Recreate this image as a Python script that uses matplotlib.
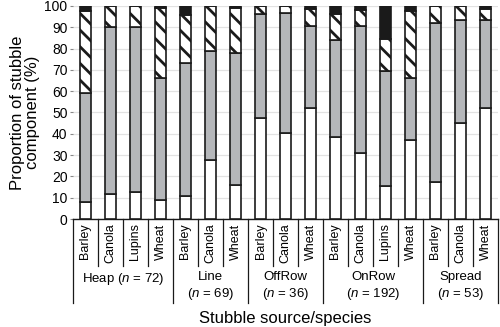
import matplotlib
matplotlib.use("Agg")
import matplotlib.pyplot as plt
import numpy as np

plt.rcParams['font.family'] = ['Liberation Sans', 'DejaVu Sans']
plt.rcParams['mathtext.fontset'] = 'custom'
plt.rcParams['mathtext.rm'] = 'Liberation Sans'
plt.rcParams['mathtext.it'] = 'Liberation Sans:italic'
plt.rcParams['hatch.linewidth'] = 2.0

species = ['Barley', 'Canola', 'Lupins', 'Wheat',
           'Barley', 'Canola', 'Wheat',
           'Barley', 'Canola', 'Wheat',
           'Barley', 'Canola', 'Lupins', 'Wheat',
           'Barley', 'Canola', 'Wheat']
groups = ['Heap ($n$ = 72)', 'Line\n($n$ = 69)', 'OffRow\n($n$ = 36)',
          'OnRow\n($n$ = 192)', 'Spread\n($n$ = 53)']
group_sizes = [4, 3, 3, 4, 3]

# stacked components (%), bottom to top
white = [8, 11.8, 12.5, 8.8, 11, 27.6, 15.8, 47.5, 40.4, 52, 38.4, 31, 15.4, 37.1, 17.2, 45.1, 52]
gray = [51, 78.3, 77.8, 57.5, 62.4, 51.2, 61.9, 48.6, 56.2, 38.6, 45.5, 59.6, 54, 29.2, 75, 48.2, 41.4]
hatched = [38.5, 9.9, 9.7, 32.7, 22.4, 21.2, 21.3, 3.9, 3.4, 7.8, 12.1, 7.4, 14.9, 31.3, 7.8, 6.7, 5]
black = [2.5, 0, 0, 1, 4.2, 0, 1, 0, 0, 1.6, 4, 2, 15.7, 2.4, 0, 0, 1.6]

x = np.arange(len(species))
fig = plt.figure(figsize=(5, 3.27), dpi=100)
ax = fig.add_axes([0.146, 0.330, 0.850, 0.652])

w = 0.44
b1 = np.array(white)
b2 = b1 + np.array(gray)
b3 = b2 + np.array(hatched)
ax.bar(x, white, w, color='white', edgecolor='#1a1a1a', linewidth=1.2, zorder=3)
ax.bar(x, gray, w, bottom=b1, color='#b5b7ba', edgecolor='#1a1a1a', linewidth=1.2, zorder=3)
ax.bar(x, hatched, w, bottom=b2, color='white', edgecolor='#1a1a1a', linewidth=1.2,
       hatch='\\\\', zorder=3)
ax.bar(x, black, w, bottom=b3, color='#1a1a1a', edgecolor='#1a1a1a', linewidth=1.2, zorder=3)

ax.set_xlim(-0.5, len(species) - 0.5)
ax.set_ylim(0, 100)
ax.set_yticks(range(0, 101, 10))
ax.tick_params(axis='y', labelsize=10, length=2, color='#888888', pad=2)
ax.set_xticks([])
ax.yaxis.grid(True, color='#e2e2e2', linewidth=0.9, zorder=0)
for s in ['top', 'right', 'left']:
    ax.spines[s].set_visible(False)
ax.spines['bottom'].set_color('#1a1a1a')
ax.spines['bottom'].set_linewidth(1.0)

tr = ax.get_xaxis_transform()
for i, s in enumerate(species):
    ax.text(i, -0.02, s, rotation=90, ha='center', va='top', fontsize=9, transform=tr)

edges = np.cumsum([0] + group_sizes) - 0.5
for e in np.arange(-0.5, len(species), 1.0):
    long = np.any(np.isclose(edges, e))
    ax.plot([e, e], [0, -0.394 if long else -0.22], color='#1a1a1a', lw=0.9,
            transform=tr, clip_on=False)

for k, g in enumerate(groups):
    c = (edges[k] + edges[k + 1]) / 2
    ax.text(c, -0.245, g, ha='center', va='top', fontsize=9.5, transform=tr,
            linespacing=1.2)

ax.text(0.5, -0.465, 'Stubble source/species', ha='center', va='center',
        fontsize=12, transform=ax.transAxes)
ax.set_ylabel('Proportion of stubble\ncomponent (%)', fontsize=12, labelpad=3,
              linespacing=1.05)

fig.savefig('out.png', dpi=100)
